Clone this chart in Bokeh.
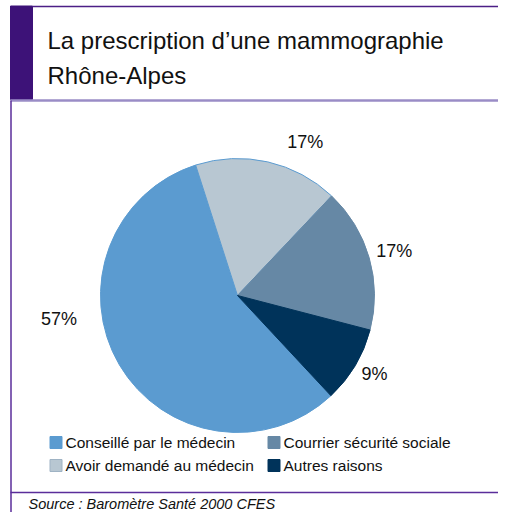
import math
from bokeh.plotting import figure
from bokeh.models import Range1d
from bokeh.core.properties import value
from bokeh.embed import file_html
from bokeh.resources import INLINE

# ---- data ----
title_lines = ["La prescription d\u2019une mammographie", "Rh\u00f4ne-Alpes"]
categories = ["Conseill\u00e9 par le m\u00e9decin", "Avoir demand\u00e9 au m\u00e9decin",
              "Courrier s\u00e9curit\u00e9 sociale", "Autres raisons"]
shares = [57, 17, 17, 9]
source_note = "Source : Barom\u00e8tre Sant\u00e9 2000 CFES"

# ---- styles ----
fills = ["#5B9BD0", "#B8C7D2", "#6688A5", "#00335A"]
edges = ["#5B9BD0", "#5B9BD0", "#6688A5", "#00335A"]
FONT = "Liberation Sans"
W, H = 498, 512

def X(x):  # picture px -> figure coords
    return x

def Y(y):
    return H - y

p = figure(width=W, height=H, output_backend="svg", toolbar_location=None,
           x_range=Range1d(0, W), y_range=Range1d(0, H), min_border=0)
p.axis.visible = False
p.grid.visible = False
p.outline_line_color = None
p.background_fill_color = "white"
p.border_fill_color = "white"

# ---- frame ----
p.quad(left=[X(10)], right=[X(32)], top=[Y(5.5)], bottom=[Y(99)], color="#3D1278")
p.segment(x0=[X(32)], y0=[Y(6)], x1=[X(520)], y1=[Y(6)], line_color="#4B1F86", line_width=1.5)
p.segment(x0=[X(10)], y0=[Y(100)], x1=[X(520)], y1=[Y(100)], line_color="#9A8CC6", line_width=2.5)
p.segment(x0=[X(10.5)], y0=[Y(100)], x1=[X(10.5)], y1=[Y(530)], line_color="#5A2D9A", line_width=1.5)
p.segment(x0=[X(10)], y0=[Y(492)], x1=[X(520)], y1=[Y(492)], line_color="#5A2D9A", line_width=1.5)

# ---- title ----
p.text(x=[X(47), X(47)], y=[Y(40), Y(75)], text=title_lines,
       text_font=value(FONT), text_font_size="24px", text_color="#111111",
       text_baseline="alphabetic", text_align="left")

# ---- pie ----
cx, cy, R = X(237), Y(295), 137
start = math.radians(-47)
total = sum(shares)
bounds = [start]
acc = 0
for s in shares:
    acc += s
    bounds.append(start - 2 * math.pi * acc / total)
p.wedge(x=cx, y=cy, radius=R, start_angle=bounds[:-1], end_angle=bounds[1:],
        direction="clock", fill_color=fills, line_color=edges, line_width=1)

# percentage labels (radial distance / angle nudges are layout choices)
label_r = [180, 168, 163, 158]
label_nudge = [-23, -11, 0, 1]
lx, ly, lt = [], [], []
for i, s in enumerate(shares):
    mid = (bounds[i] + bounds[i + 1]) / 2 + math.radians(label_nudge[i])
    lx.append(cx + label_r[i] * math.cos(mid))
    ly.append(cy + label_r[i] * math.sin(mid))
    lt.append(f"{s}%")
p.text(x=lx, y=ly, text=lt, text_font=value(FONT), text_font_size="18px",
       text_color="#111111", text_align="center", text_baseline="middle")

# ---- legend (column-major, 2 columns) ----
col_x = [X(49), X(267)]
row_y = [Y(442), Y(465)]
sx, sy, tx, ty = [], [], [], []
for i, c in enumerate(categories):
    col, row = divmod(i, 2)
    sx.append(col_x[col] + 6.5)
    sy.append(row_y[row])
    tx.append(col_x[col] + 16)
    ty.append(row_y[row])
p.rect(x=sx, y=sy, width=12, height=12, fill_color=fills,
       line_color=["#5B9BD0", "#9FB3C4", "#6688A5", "#00335A"], line_width=1)
p.text(x=tx, y=ty, text=categories, text_font=value(FONT), text_font_size="15.5px",
       text_color="#111111", text_align="left", text_baseline="middle")

# ---- source ----
p.text(x=[X(28)], y=[Y(503)], text=[source_note], text_font=value(FONT),
       text_font_size="14.5px", text_font_style="italic", text_color="#111111",
       text_align="left", text_baseline="middle")

open("out.html", "w").write(file_html(p, INLINE))
